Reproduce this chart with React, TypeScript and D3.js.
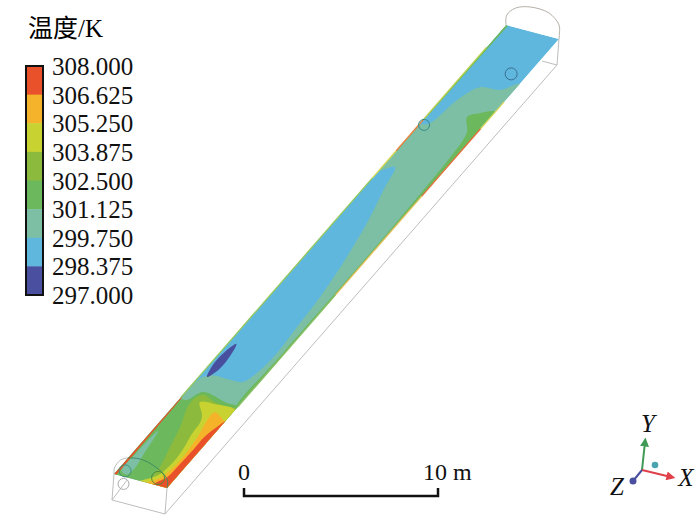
import React from "react";
import * as d3 from "d3";

type P = [number, number];

// legend
const legendLabels = ["308.000", "306.625", "305.250", "303.875", "302.500", "301.125", "299.750", "298.375", "297.000"];
const legendValues = [308, 306.625, 305.25, 303.875, 302.5, 301.125, 299.75, 298.375, 297];
const bandColors = ["#e8512a", "#f5b32c", "#c8d332", "#8cba3c", "#6cb85c", "#7dbfa5", "#5fb7de", "#4a4f9f"];

// contour bands: [position along the tunnel 0..1, position across 0..1]
const stripBand: P[] = [[0, 0], [1, 0], [1, 1], [0, 1]];
const tealBand: P[] = [[.90, 1.02], [.8795, .778], [.875, .431], [.841, .253], [.786, .147], [.775, -.02], [.675, -.02], [.69, .199], [.649, .313], [.575, .519], [.491, .687], [.419, .789], [.354, .838], [.297, .879], [.251, .841], [.228, .746], [.226, .52], [.226, .193], [.218, .066], [.185, -.02], [-.02, -.05], [-.02, 1.05]];
const upperGreenBand: P[] = [[.837, 1.02], [.828, .779], [.815, .634], [.788, .834], [.771, .88], [.60, .96], [.30, .97], [.18, .98], [.18, 1.05]];
const greenBand: P[] = [[.18, 1.02], [.1825, .782], [.191, .267], [.169, .129], [.165, -.02], [-.02, -.05], [-.02, 1.05]];
const tealStreak: P[] = [[.10, .10], [.05, .19], [.02, .24], [.005, .2], [.01, .07], [.05, .06]];
const darkGreenBand: P[] = [[.165, .215], [.186, .30], [.178, .6], [.176, .85], [.176, 1.03], [-.02, 1.05], [.011, .651], [.035, .612], [.076, .497], [.117, .383]];
const yellowBand: P[] = [[.172, 1.02], [.176, .94], [.175, .67], [.171, .355], [.149, .56], [.135, .63], [.108, .66], [.082, .72], [.05, .75], [.02, .70], [.009, .6], [-.01, .42], [-.02, 1.05]];
const orangeBand: P[] = [[.16, .72], [.15, .95], [.145, 1.03], [-.02, 1.05], [-.01, .55], [.01, .72], [.02, .78], [.05, .83], [.081, .82], [.11, .78], [.135, .72]];
const redBand: P[] = [[.15, 1.02], [.135, .95], [.11, .89], [.083, .89], [.05, .88], [.02, .86], [.005, .76], [-.01, .72], [-.02, 1.05]];
const redEdgeBand: P[] = [[0, 0], [.175, 0], [.17, .02], [0, .045]];
const topGreenBand: P[] = [[.80, 0], [1, 0], [1, .04], [.80, .02]];
const coldSpot: P[] = [[.294, .135], [.27, .20], [.24, .21], [.22, .127], [.245, .055], [.275, .065]];

// thin coloured rims: along from, along to, across, colour
const rims: [number, number, number, string][] = [
  [.17, .66, 0, "#93c85a"],
  [.66, .72, 0, "#d6d84a"],
  [.72, .79, 0, "#e8803a"],
  [.79, .95, 0, "#b4d050"],
  [.18, .43, 1, "#8cc266"],
  [.43, .65, 1, "#e7c060"],
  [.65, .80, 1, "#e8703a"],
  [.80, .86, 1, "#d8d860"],
];

// wireframe: [along, across, depth]
type W = [number, number, number];
const wireLines: W[][] = [
  [[0, 0, 0], [0, 0, 1], [0, 1, 1], [0, 1, 0]],
  [[0, 1, 1], [1, 1, 1], [1, 1, 0]],
  [[1, 1, 1], [1, .72, 1]],
  [[0, 0, 1], [0, .25, .1]],
];
const nearArch: P[] = [[0, 0], [0, -.23], [.1, -.59], [.24, -.75], [.42, -.82], [.6, -.79], [.88, -.55], [1, -.28], [1, 0]];
const farArch: P[] = [[0, 0], [0, -.38], [.15, -.73], [.42, -.92], [.78, -.88], [.98, -.53], [1, -.2], [1, 0]];
// portals: along, across, depth, radius, colour
const portals: [number, number, number, number, string][] = [
  [.914, .733, 0, 6, "#3a6f93"],
  [.78, .081, 0, 5.5, "#3a8a8a"],
  [.011, .128, 0, 6, "#3e8f7c"],
  [.014, .728, 0, 6.5, "#4d8a3a"],
  [0, .19, .28, 5.5, "#aaaaaa"],
];

const scaleValues = [0, 10];

// projection of the tunnel
const alongX = d3.scaleLinear().domain([0, 1]).range([0, 392]);
const alongY = d3.scaleLinear().domain([0, 1]).range([0, -449]);
const acrossX = d3.scaleLinear().domain([0, 1]).range([0, 53]);
const acrossY = d3.scaleLinear().domain([0, 1]).range([0, 14]);
const depthX = d3.scaleLinear().domain([0, 1]).range([0, -2]);
const depthY = d3.scaleLinear().domain([0, 1]).range([0, 26]);
const project = (s: number, t: number, d = 0): P => [
  114 + alongX(s) + acrossX(t) + depthX(d),
  474 + alongY(s) + acrossY(t) + depthY(d),
];

const legendY = d3.scaleLinear().domain([297, 308]).range([296, 67]);
const lenX = d3.scaleLinear().domain([0, 10]).range([244, 438]);

const polyPath = (pts: P[]) => d3.line()(pts.map(([s, t]) => project(s, t))) + "Z";
const smoothPath = (pts: P[]) =>
  d3.line().curve(d3.curveCatmullRomClosed.alpha(0.5))(pts.map(([s, t]) => project(s, t))) as string;
const wirePath = (pts: W[]) => d3.line()(pts.map(([s, t, d]) => project(s, t, d))) as string;
const archPath = (s: number, pts: P[]) =>
  d3.line().curve(d3.curveCatmullRom)(pts.map(([t, d]) => project(s, t, d))) as string;

const SERIF = '"Liberation Serif", "Noto Sans CJK SC", serif';

const bands: [P[], string][] = [
  [tealBand, bandColors[5]],
  [upperGreenBand, bandColors[4]],
  [greenBand, bandColors[4]],
  [tealStreak, bandColors[5]],
  [darkGreenBand, bandColors[3]],
  [yellowBand, bandColors[2]],
  [orangeBand, bandColors[1]],
  [redBand, bandColors[0]],
];

export default function App() {
  const band = legendY(308) - 1;
  const step = (legendY(297) - legendY(308)) / bandColors.length;
  const [ox, oy] = [642, 470];
  return (
    <svg width={700} height={519} style={{ position: "absolute", left: 0, top: 0, background: "#fff" }}>
      <defs>
        <filter id="soft" x="-5%" y="-5%" width="110%" height="110%">
          <feGaussianBlur stdDeviation="0.5" />
        </filter>
        <clipPath id="stripClip"><path d={polyPath(stripBand)} /></clipPath>
        <marker id="arrG" viewBox="0 0 10 10" refX="5" refY="5" markerWidth="9" markerHeight="11" orient="auto" markerUnits="userSpaceOnUse">
          <path d="M0,0L10,5L0,10Z" fill="#3f9a55" />
        </marker>
        <marker id="arrR" viewBox="0 0 10 10" refX="5" refY="5" markerWidth="11" markerHeight="9" orient="auto" markerUnits="userSpaceOnUse">
          <path d="M0,0L10,5L0,10Z" fill="#e0404a" />
        </marker>
      </defs>

      {/* wireframe */}
      <g fill="none" stroke="#bdbdbd" strokeWidth={1}>
        {wireLines.map((l, i) => <path key={i} d={wirePath(l)} />)}
        <path d={archPath(1, farArch)} stroke="#b5b0a8" />
        <path d={archPath(0, nearArch)} />
      </g>

      {/* temperature field */}
      <g filter="url(#soft)">
        <g clipPath="url(#stripClip)">
          <path d={polyPath(stripBand)} fill={bandColors[6]} />
          {bands.map(([pts, c], i) => <path key={i} d={smoothPath(pts)} fill={c} />)}
          <path d={polyPath(redEdgeBand)} fill={bandColors[0]} />
          <path d={polyPath(topGreenBand)} fill={bandColors[4]} />
          <path d={smoothPath(coldSpot)} fill={bandColors[7]} />
        </g>
        {rims.map(([a, b, t, c], i) => (
          <path key={i} d={d3.line()([project(a, t), project(b, t)]) as string} stroke={c} strokeWidth={1.3} fill="none" />
        ))}
      </g>

      {/* arch over the field and portals */}
      <path d={archPath(0, nearArch.slice(3))} fill="none" stroke="#3f8c62" strokeWidth={1} />
      <g fill="none" strokeWidth={1}>
        {portals.map(([s, t, d, r, c], i) => {
          const [x, y] = project(s, t, d);
          return <circle key={i} cx={x} cy={y} r={r} stroke={c} />;
        })}
      </g>

      {/* legend */}
      <text x={28} y={37} fontFamily={SERIF} fontSize={25}>温度/K</text>
      {bandColors.map((c, i) => (
        <rect key={c} x={26} y={band + i * step} width={17} height={step + 0.5} fill={c} />
      ))}
      <rect x={26} y={band} width={17} height={step * bandColors.length} fill="none" stroke="#111" strokeWidth={2} />
      {legendLabels.map((l, i) => (
        <text key={l} x={52} y={legendY(legendValues[i]) + 8} fontFamily={SERIF} fontSize={25} fill="#111">{l}</text>
      ))}

      {/* scale bar */}
      <path d={`M${lenX(0)},488V496H${lenX(10)}V488`} fill="none" stroke="#111" strokeWidth={2.5} />
      <text x={lenX(scaleValues[0])} y={480} textAnchor="middle" fontFamily={SERIF} fontSize={24} fill="#111">0</text>
      <text x={423} y={480} fontFamily={SERIF} fontSize={24} fill="#111">{scaleValues[1]} m</text>

      {/* triad */}
      <line x1={ox} y1={oy} x2={645} y2={442} stroke="#3f9a55" strokeWidth={2} markerEnd="url(#arrG)" />
      <line x1={ox} y1={oy} x2={671} y2={477} stroke="#e0404a" strokeWidth={2} markerEnd="url(#arrR)" />
      <circle cx={655} cy={465} r={3.3} fill="#4ba3b0" />
      <circle cx={633} cy={481} r={3.5} fill="#4a4f9f" />
      <line x1={ox} y1={oy} x2={633} y2={481} stroke="#4a4f9f" strokeWidth={2} />
      <g fontFamily={SERIF} fontSize={25} fontStyle="italic" fill="#111" textAnchor="middle">
        <text x={648} y={432}>Y</text>
        <text x={686} y={486}>X</text>
        <text x={617} y={495}>Z</text>
      </g>
    </svg>
  );
}
